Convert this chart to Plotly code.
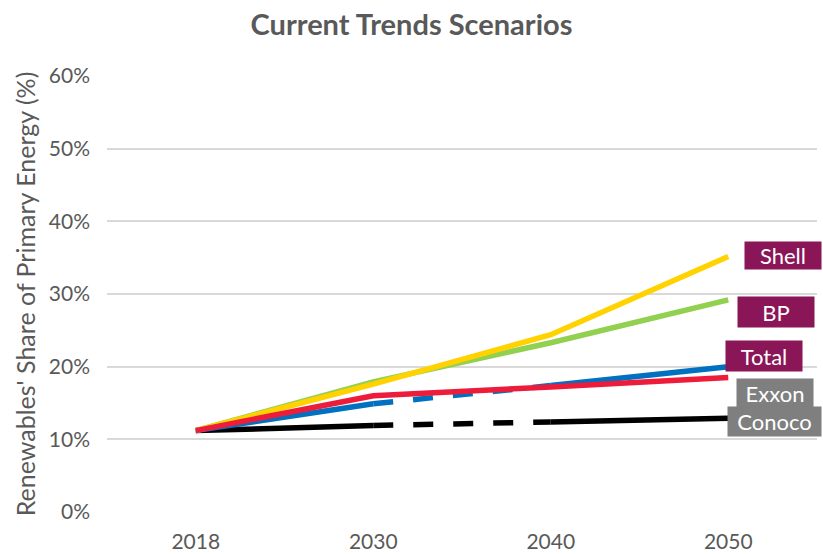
import plotly.graph_objects as go

years = ["2018", "2030", "2040", "2050"]
shell = [11.2, 17.6, 24.4, 35.15]
bp = [11.2, 17.9, 23.3, 29.2]
total = [11.2, 16.0, 17.2, 18.5]
exxon = [11.2, 14.9, 17.4, 20.0]
conoco = [11.2, 11.9, 12.4, 12.9]
y_ticks = [0, 10, 20, 30, 40, 50, 60]

W, H = 823, 554
ML, MR, MT, MB = 107, 6, 76, 42
PW, PH = W - ML - MR, H - MT - MB

COL_SHELL = "#FFD200"
COL_BP = "#92D050"
COL_TOTAL = "#EC1C3A"
COL_EXXON = "#0070C0"
COL_CONOCO = "#000000"
LW = 5.5

fig = go.Figure()


def add_split(vals, color):
    # solid 2018-2030, dashed 2030-2040, solid 2040-2050
    fig.add_trace(go.Scatter(x=years[0:2], y=[v / 100 for v in vals[0:2]], mode="lines",
                             line=dict(color=color, width=LW), showlegend=False, hoverinfo="skip"))
    fig.add_trace(go.Scatter(x=years[1:3], y=[v / 100 for v in vals[1:3]], mode="lines",
                             line=dict(color=color, width=LW, dash="20px,20px"), showlegend=False, hoverinfo="skip"))
    fig.add_trace(go.Scatter(x=years[2:4], y=[v / 100 for v in vals[2:4]], mode="lines",
                             line=dict(color=color, width=LW), showlegend=False, hoverinfo="skip"))


def add_line(vals, color):
    fig.add_trace(go.Scatter(x=years, y=[v / 100 for v in vals], mode="lines",
                             line=dict(color=color, width=LW), showlegend=False, hoverinfo="skip"))


add_split(conoco, COL_CONOCO)
add_split(exxon, COL_EXXON)
add_line(bp, COL_BP)
add_line(shell, COL_SHELL)
add_line(total, COL_TOTAL)

FONT = "Lato"
GREY = "#595959"

# label boxes: (text, center_x_px, center_y_px, width, height, color)
labels = [
    ("Shell", 783, 255, 76, 27, "#8A1557"),
    ("BP", 776, 312, 76, 30, "#8A1557"),
    ("Total", 764, 356, 76, 30, "#8A1557"),
    ("Exxon", 775, 393, 76, 28, "#7F7F7F"),
    ("Conoco", 774.5, 421.5, 93, 29, "#7F7F7F"),
]
for txt, cx, cy, w, h, c in labels:
    fig.add_annotation(
        x=(cx - ML) / PW, y=(H - MB - cy) / PH, xref="paper", yref="paper",
        xanchor="center", yanchor="middle", text=txt, showarrow=False,
        width=w, height=h, bgcolor=c, borderpad=0,
        font=dict(family=FONT, size=22, color="white"), align="center", valign="middle",
    )

fig.update_layout(
    width=W, height=H,
    margin=dict(l=ML, r=MR, t=MT, b=MB, pad=0, autoexpand=False),
    paper_bgcolor="white", plot_bgcolor="white",
    title=dict(text="<b>Current Trends Scenarios</b>", x=0.5, xanchor="center",
               y=1 - 25 / H, yanchor="middle", yref="container",
               font=dict(family=FONT, size=29, color=GREY)),
    xaxis=dict(type="category", range=[-0.5, 3.5], showgrid=False, zeroline=False,
               showline=False, ticks="", tickfont=dict(family=FONT, size=21, color=GREY),
               ticklabelstandoff=15, automargin=False),
    yaxis=dict(range=[0, 0.6], tickvals=[t / 100 for t in y_ticks], tickformat=".0%",
               showgrid=True, gridcolor="#D9D9D9", gridwidth=1.5, zeroline=False,
               showline=False, ticks="", tickfont=dict(family=FONT, size=21, color=GREY),
               ticklabelstandoff=16, automargin=False,
               title=dict(text="Renewables' Share of Primary Energy (%)",
                          font=dict(family=FONT, size=25, color=GREY), standoff=6)),
)

fig.write_html("out.html")
